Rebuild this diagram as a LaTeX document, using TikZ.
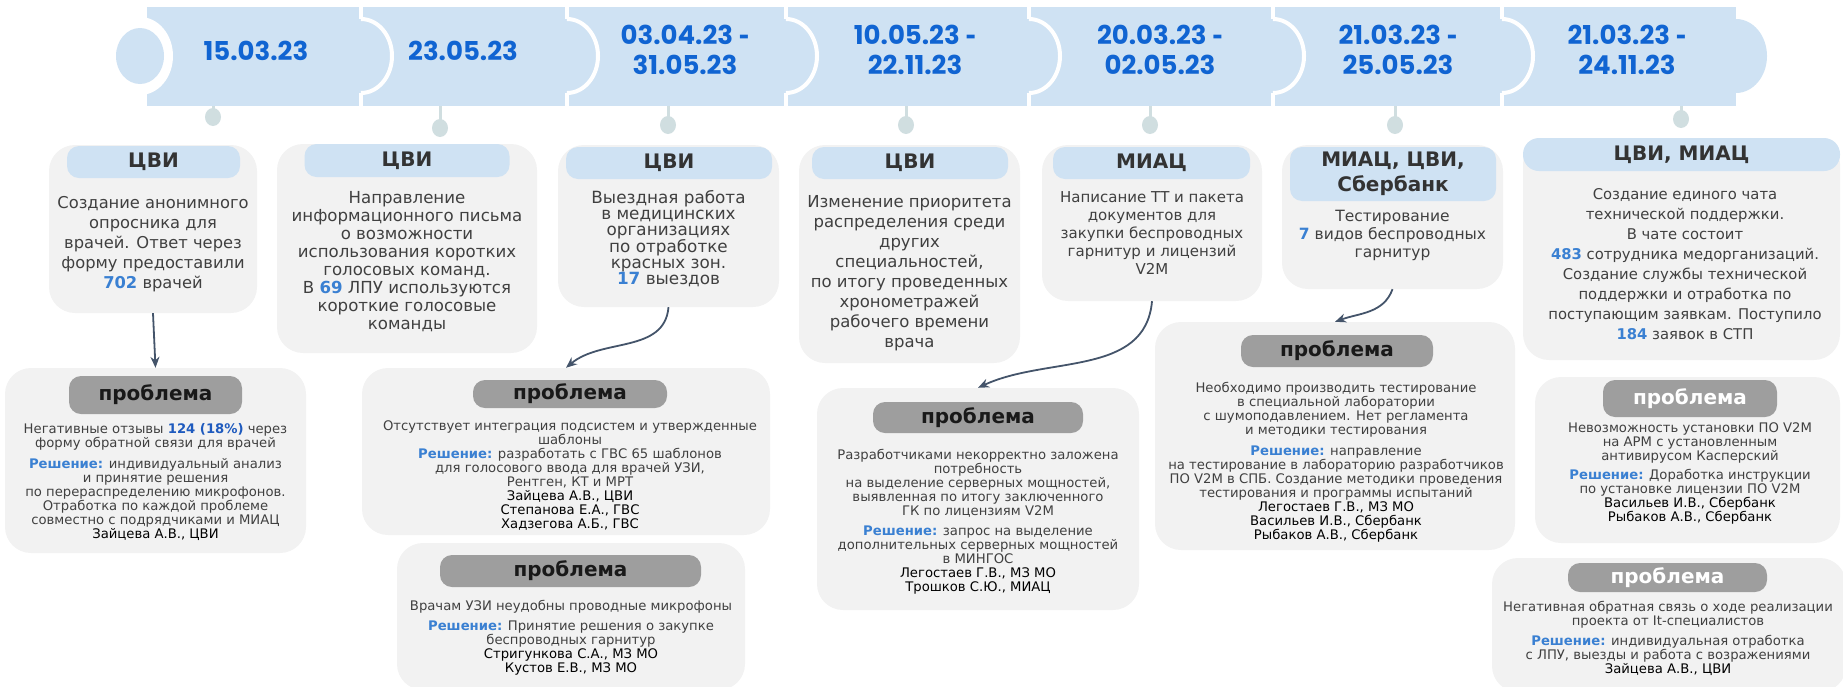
\documentclass[tikz,border=0pt]{standalone}
\usepackage{fontspec}
\setmainfont{DejaVu Sans}
\newfontfamily\datefont{Poppins}
\usetikzlibrary{arrows.meta,positioning}

\definecolor{bandblue}{RGB}{207,226,243}
\definecolor{dateblue}{RGB}{16,100,210}
\definecolor{boxgray}{RGB}{242,242,242}
\definecolor{pillgray}{RGB}{158,158,158}
\definecolor{numblue}{RGB}{58,128,210}
\definecolor{deepblue}{RGB}{30,90,190}
\definecolor{stemgray}{RGB}{208,222,224}
\definecolor{connslate}{RGB}{68,84,106}
\definecolor{txtgray}{RGB}{64,64,64}
\definecolor{headgray}{RGB}{51,51,51}

\newcommand{\cnt}[1]{\textbf{\color{numblue}#1}}
\newcommand{\resh}{\textbf{\color{numblue}Решение:}}
\newcommand{\who}[1]{{\color{black}#1}}
\newcommand{\dsep}{{\normalfont\bfseries -}}

\tikzset{
  card/.style={fill=boxgray, rounded corners=26pt, inner sep=0pt},
  headpill/.style={fill=bandblue, rounded corners=12pt, inner sep=0pt, text=headgray,
    align=center, font=\fontsize{20}{25}\selectfont\bfseries},
  probpill/.style={fill=pillgray, rounded corners=12pt, inner sep=0pt, text=black!90,
    font=\fontsize{20}{24}\selectfont\bfseries},
  cardtext/.style={text=txtgray, align=center, inner sep=0pt, anchor=north},
  probtext/.style={text=txtgray, align=center, inner sep=0pt, anchor=north,
    font=\fontsize{13.2}{14}\selectfont},
  datetext/.style={text=dateblue, align=center,
    font=\datefont\bfseries\fontsize{26}{30}\selectfont},
  conn/.style={draw=connslate, line width=1.8pt, -{Stealth[length=11pt,width=9pt]}},
}

\begin{document}
\begin{tikzpicture}[x=1pt,y=-1pt]
\useasboundingbox (0,0) rectangle (1843,686);

% timeline band
\fill[bandblue] (147,7) rectangle (1736,106);
\fill[bandblue] (1736,19) arc[start angle=-90,end angle=90,x radius=31,y radius=37];
\foreach \bx in {361,567,786,1029,1273,1502}{
  \draw[white,line width=4pt] (\bx,7) -- (\bx,19) (\bx,93) -- (\bx,106);
  \filldraw[fill=bandblue,draw=white,line width=4pt] (\bx,19) arc[start angle=-90,end angle=90,x radius=31,y radius=37];
}
\fill[white] (140,56) ellipse[x radius=33,y radius=39];
\fill[bandblue] (140,56) ellipse[x radius=24,y radius=28];
\foreach \sx/\sy in {213/117,440/128,668/125,906/125,1150/125,1395/125,1681/119}{
  \draw[stemgray,line width=3pt] (\sx,106) -- (\sx,\sy);
  \fill[stemgray] (\sx,\sy) ellipse[x radius=8,y radius=9];
}

\node[datetext] (d1) at (256,51) {15.03.23};
\node[datetext] (d2) at (463,51) {23.05.23};
\node[datetext] (d3) at (685,50) {03.04.23 \dsep\\31.05.23};
\node[datetext] (d4) at (915,50) {10.05.23 \dsep\\22.11.23};
\node[datetext] (d5) at (1160,50) {20.03.23 \dsep\\02.05.23};
\node[datetext] (d6) at (1398,50) {21.03.23 \dsep\\25.05.23};
\node[datetext] (d7) at (1627,50) {21.03.23 \dsep\\24.11.23};

% top cards
\node[card,minimum width=208pt,minimum height=168pt] (b1) at (153,229) {};
\node[headpill,minimum width=173pt,minimum height=32pt] (b1h) at (153.5,162) {ЦВИ};
\node[cardtext,font=\fontsize{16.3}{20}\selectfont] (b1t) at (153,196)
  {Создание анонимного\\опросника для\\врачей. Ответ через\\форму предоставили\\\cnt{702} врачей};

\node[card,minimum width=260pt,minimum height=209pt] (b2) at (407,248.5) {};
\node[headpill,minimum width=205pt,minimum height=33pt] (b2h) at (407,160.5) {ЦВИ};
\node[cardtext,font=\fontsize{16.6}{18}\selectfont] (b2t) at (407,191)
  {Направление\\информационного письма\\о возможности\\использования коротких\\голосовых команд.\\В \cnt{69} ЛПУ используются\\короткие голосовые\\команды};

\node[card,minimum width=221pt,minimum height=162pt] (b3) at (668.5,226) {};
\node[headpill,minimum width=206pt,minimum height=32pt] (b3h) at (669,163) {ЦВИ};
\node[cardtext,font=\fontsize{16.8}{16}\selectfont] (b3t) at (668.5,190)
  {Выездная работа\\в медицинских\\организациях\\по отработке\\красных зон.\\\cnt{17} выездов};

\node[card,minimum width=221pt,minimum height=218pt] (b4) at (909.5,254) {};
\node[headpill,minimum width=196pt,minimum height=32pt] (b4h) at (910,163) {ЦВИ};
\node[cardtext,font=\fontsize{16.5}{20}\selectfont] (b4t) at (909.5,195)
  {Изменение приоритета\\распределения среди\\других\\специальностей,\\по итогу проведенных\\хронометражей\\рабочего времени\\врача};

\node[card,minimum width=220pt,minimum height=156pt] (b5) at (1152,223) {};
\node[headpill,minimum width=197pt,minimum height=32pt] (b5h) at (1151.5,163) {МИАЦ};
\node[cardtext,font=\fontsize{15}{18}\selectfont] (b5t) at (1152,191)
  {Написание ТТ и пакета\\документов для\\закупки беспроводных\\гарнитур и лицензий\\V2M};

\node[card,minimum width=221pt,minimum height=144pt] (b6) at (1392.5,217) {};
\node[headpill,minimum width=206pt,minimum height=54pt] (b6h) at (1393,174) {МИАЦ, ЦВИ,\\Сбербанк};
\node[cardtext,font=\fontsize{15.5}{18}\selectfont] (b6t) at (1392.5,210)
  {Тестирование\\\cnt{7} видов беспроводных\\гарнитур};

\node[card,minimum width=317pt,minimum height=222pt] (b7) at (1681.5,249) {};
\node[headpill,rounded corners=16pt,minimum width=317pt,minimum height=33pt] (b7h) at (1681.5,154.5) {ЦВИ, МИАЦ};
\node[cardtext,font=\fontsize{14.8}{20}\selectfont] (b7t) at (1685,188)
  {Создание единого чата\\технической поддержки.\\В чате состоит\\\cnt{483} сотрудника медорганизаций.\\Создание службы технической\\поддержки и отработка по\\поступающим заявкам. Поступило\\\cnt{184} заявок в СТП};

% problem cards
\node[card,minimum width=301pt,minimum height=185pt] (p1) at (155.5,460.5) {};
\node[probpill,minimum width=173pt,minimum height=38pt] (p1h) at (155.5,395) {проблема};
\node[probtext] (p1t) at (155.5,423)
  {Негативные отзывы \textbf{\color{deepblue}124 (18\%)} через\\форму обратной связи для врачей\\[7pt]
   \resh{} индивидуальный анализ\\и принятие решения\\по перераспределению микрофонов.\\Отработка по каждой проблеме\\совместно с подрядчиками и МИАЦ\\\who{Зайцева А.В., ЦВИ}};

\node[card,minimum width=408pt,minimum height=167pt] (p2) at (566,451.5) {};
\node[probpill,minimum width=194pt,minimum height=28pt] (p2h) at (570,394) {проблема};
\node[probtext] (p2t) at (570,420)
  {Отсутствует интеграция подсистем и утвержденные\\шаблоны\\\resh{} разработать с ГВС 65 шаблонов\\для голосового ввода для врачей УЗИ,\\Рентген, КТ и МРТ\\\who{Зайцева А.В., ЦВИ}\\\who{Степанова Е.А., ГВС}\\\who{Хадзегова А.Б., ГВС}};

\node[card,minimum width=348pt,minimum height=147pt] (p3) at (571,616.5) {};
\node[probpill,minimum width=261pt,minimum height=32pt] (p3h) at (570.5,571) {проблема};
\node[probtext] (p3t) at (571,600)
  {Врачам УЗИ неудобны проводные микрофоны\\[6pt]\resh{} Принятие решения о закупке\\беспроводных гарнитур\\\who{Стригункова С.А., МЗ МО}\\\who{Кустов Е.В., МЗ МО}};

\node[card,minimum width=322pt,minimum height=222pt] (p4) at (978,499) {};
\node[probpill,minimum width=210pt,minimum height=31pt] (p4h) at (978,417.5) {проблема};
\node[probtext] (p4t) at (978,449)
  {Разработчиками некорректно заложена\\потребность\\на выделение серверных мощностей,\\выявленная по итогу заключенного\\ГК по лицензиям V2M\\[6pt]\resh{} запрос на выделение\\дополнительных серверных мощностей\\в МИНГОС\\\who{Легостаев Г.В., МЗ МО}\\\who{Трошков С.Ю., МИАЦ}};

\node[card,minimum width=360pt,minimum height=228pt] (p5) at (1335,436) {};
\node[probpill,minimum width=192pt,minimum height=32pt] (p5h) at (1337,351) {проблема};
\node[probtext] (p5t) at (1336,382)
  {Необходимо производить тестирование\\в специальной лаборатории\\с шумоподавлением. Нет регламента\\и методики тестирования\\[7pt]\resh{} направление\\на тестирование в лабораторию разработчиков\\ПО V2M в СПБ. Создание методики проведения\\тестирования и программы испытаний\\\who{Легостаев Г.В., МЗ МО}\\\who{Васильев И.В., Сбербанк}\\\who{Рыбаков А.В., Сбербанк}};

\node[card,minimum width=305pt,minimum height=166pt] (p6) at (1687.5,460) {};
\node[probpill,text=white,minimum width=174pt,minimum height=37pt] (p6h) at (1690,398.5) {проблема};
\node[probtext] (p6t) at (1690,422)
  {Невозможность установки ПО V2M\\на АРМ с установленным\\антивирусом Касперский\\[5pt]\resh{} Доработка инструкции\\по установке лицензии ПО V2M\\\who{Васильев И.В., Сбербанк}\\\who{Рыбаков А.В., Сбербанк}};

\node[card,minimum width=354pt,minimum height=134pt] (p7) at (1669,625) {};
\node[probpill,text=white,minimum width=199pt,minimum height=29pt] (p7h) at (1667.5,577.5) {проблема};
\node[probtext] (p7t) at (1668,601)
  {Негативная обратная связь о ходе реализации\\проекта от It-специалистов\\[6pt]\resh{} индивидуальная отработка\\с ЛПУ, выезды и работа с возражениями\\\who{Зайцева А.В., ЦВИ}};

% connectors
\draw[conn] (b1.south) -- (p1.north);
\draw[conn] (b3.south) to[out=-95,in=40] (p2.north);
\draw[conn] (b5.south) to[out=-95,in=25] (p4.north);
\draw[conn] (b6.south) to[out=-110,in=20] (p5.north);
\end{tikzpicture}
\end{document}
